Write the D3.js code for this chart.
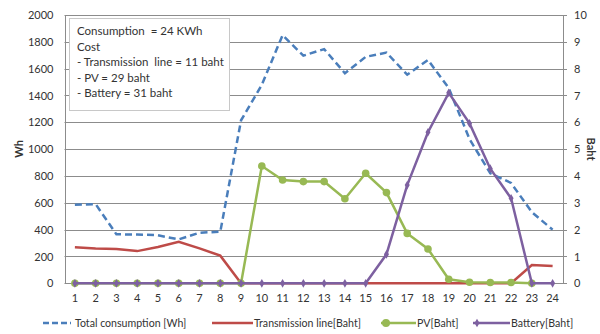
<!DOCTYPE html>
<html><head><meta charset="utf-8">
<script src="https://cdn.jsdelivr.net/npm/d3@7"></script>
<style>
body{margin:0;background:#fff;}
svg text{font-family:Lato,"Open Sans",sans-serif;fill:#333;}
</style></head><body>
<svg id="c" width="600" height="334"></svg>
<script>
const categories = ["1","2","3","4","5","6","7","8","9","10","11","12","13","14","15","16","17","18","19","20","21","22","23","24"];
const totalConsumption = [585,590,365,364,358,327,377,384,1215,1480,1850,1697,1746,1566,1688,1720,1555,1665,1455,1075,820,748,530,400];
const transmission = [1.34,1.30,1.28,1.20,1.35,1.55,1.30,1.03,0,0,0,0,0,0,0,0,0,0,0,0,0,0,0.68,0.645];
const pv = [0,0,0,0,0,0,0,0,0,4.37,3.85,3.79,3.79,3.15,4.10,3.38,1.86,1.28,0.15,0.04,0.03,0.03,0,null];
const battery = [0,0,0,0,0,0,0,0,0,0,0,0,0,0,0,1.08,3.66,5.63,7.10,5.96,4.27,3.17,0,0];
const leftTicks = [0,200,400,600,800,1000,1200,1400,1600,1800,2000];
const rightTicks = [0,1,2,3,4,5,6,7,8,9,10];
const boxLines = ["Consumption  = 24 KWh","Cost","- Transmission  line = 11 baht","- PV = 29 baht","- Battery = 31 baht"];
const legendLabels = ["Total consumption [Wh]","Transmission line[Baht]","PV[Baht]","Battery[Baht]"];

const svg = d3.select("#c");
const L = 64.5, R = 563, T = 15, B = 283.3;
const x = d3.scaleBand().domain(categories).range([L, R]);
const cx = c => x(c) + x.bandwidth()/2;
const yL = d3.scaleLinear().domain([0,2000]).range([B,T]);
const yR = d3.scaleLinear().domain([0,10]).range([B,T]);
const grid = "#8c8c8c";

svg.append("g").selectAll("line").data(leftTicks).join("line")
  .attr("x1",L).attr("x2",R+4).attr("y1",d=>Math.round(yL(d))+0.5).attr("y2",d=>Math.round(yL(d))+0.5)
  .attr("stroke",grid).attr("stroke-width",1);
svg.append("line").attr("x1",Math.round(L)+0.5).attr("x2",Math.round(L)+0.5).attr("y1",T).attr("y2",B).attr("stroke",grid);
svg.append("line").attr("x1",Math.round(R)+0.5).attr("x2",Math.round(R)+0.5).attr("y1",T).attr("y2",B).attr("stroke",grid);

const ax = svg.append("g").attr("transform",`translate(${L},0)`)
  .call(d3.axisLeft(yL).tickValues(leftTicks).tickFormat(d3.format("d")).tickSize(0).tickPadding(11));
ax.select(".domain").remove();
ax.selectAll("text").style("font-size","11px").attr("fill","#333");
const ar = svg.append("g").attr("transform",`translate(${R},0)`)
  .call(d3.axisRight(yR).tickValues(rightTicks).tickFormat(d3.format("d")).tickSize(0).tickPadding(11));
ar.select(".domain").remove();
ar.selectAll("text").style("font-size","11px").attr("fill","#333");
const ab = svg.append("g").attr("transform",`translate(0,${B})`)
  .call(d3.axisBottom(x).tickSize(0).tickPadding(11));
ab.select(".domain").remove();
ab.selectAll("text").style("font-size","11px").attr("fill","#333");

svg.append("text").attr("transform","translate(23,149) rotate(-90)").attr("text-anchor","middle")
  .style("font-size","11px").style("font-weight","bold").attr("fill","#222").text("Wh");
svg.append("text").attr("transform","translate(587,149) rotate(90)").attr("text-anchor","middle")
  .style("font-size","11px").style("font-weight","bold").attr("fill","#222").text("Baht");

const cBlue="#4a7ebb", cRed="#be4b48", cGreen="#98b954", cPurple="#7d60a0";

const lineL = d3.line().defined(d=>d[1]!=null).x(d=>cx(d[0])).y(d=>yL(d[1]));
const lineR = d3.line().defined(d=>d[1]!=null).x(d=>cx(d[0])).y(d=>yR(d[1]));
const z = arr => categories.map((c,i)=>[c,arr[i]]);

svg.append("path").datum(z(totalConsumption)).attr("d",lineL).attr("fill","none")
  .attr("stroke",cBlue).attr("stroke-width",2.5).attr("stroke-dasharray","7,4");
svg.append("path").datum(z(transmission)).attr("d",lineR).attr("fill","none")
  .attr("stroke",cRed).attr("stroke-width",2.5);
svg.append("path").datum(z(pv)).attr("d",lineR).attr("fill","none")
  .attr("stroke",cGreen).attr("stroke-width",2.5);
svg.append("g").selectAll("circle").data(z(pv).filter(d=>d[1]!=null)).join("circle")
  .attr("cx",d=>cx(d[0])).attr("cy",d=>yR(d[1])).attr("r",3.8).attr("fill",cGreen);
svg.append("path").datum(z(battery)).attr("d",lineR).attr("fill","none")
  .attr("stroke",cPurple).attr("stroke-width",2.5);
const diamond = d3.symbol().type(d3.symbolDiamond).size(22);
svg.append("g").selectAll("path").data(z(battery)).join("path")
  .attr("transform",d=>`translate(${cx(d[0])},${yR(d[1])})`).attr("d",diamond).attr("fill",cPurple);

svg.append("rect").attr("x",69.5).attr("y",18.5).attr("width",160).attr("height",92)
  .attr("fill","#fff").attr("stroke","#c8c8c8").attr("stroke-width",1);
svg.append("g").selectAll("text").data(boxLines).join("text")
  .attr("x",77).attr("y",(d,i)=>35+i*15.5).style("font-size","11.5px").style("white-space","pre")
  .attr("xml:space","preserve").attr("fill","#222").text(d=>d);

const ly = 323, lf = "10.6px";
const lg = svg.append("g");
lg.append("line").attr("x1",43).attr("x2",71).attr("y1",ly).attr("y2",ly).attr("stroke",cBlue).attr("stroke-width",2.5).attr("stroke-dasharray","6,3");
lg.append("text").attr("x",75).attr("y",ly+4).style("font-size",lf).text(legendLabels[0]);
lg.append("line").attr("x1",212).attr("x2",253).attr("y1",ly).attr("y2",ly).attr("stroke",cRed).attr("stroke-width",2.5);
lg.append("text").attr("x",254).attr("y",ly+4).style("font-size",lf).text(legendLabels[1]);
lg.append("line").attr("x1",381).attr("x2",416).attr("y1",ly).attr("y2",ly).attr("stroke",cGreen).attr("stroke-width",2.5);
lg.append("circle").attr("cx",386).attr("cy",ly).attr("r",4).attr("fill",cGreen);
lg.append("text").attr("x",417).attr("y",ly+4).style("font-size",lf).text(legendLabels[2]);
lg.append("line").attr("x1",473).attr("x2",510).attr("y1",ly).attr("y2",ly).attr("stroke",cPurple).attr("stroke-width",2.5);
lg.append("path").attr("transform",`translate(477,${ly})`).attr("d",diamond).attr("fill",cPurple);
lg.append("text").attr("x",511).attr("y",ly+4).style("font-size",lf).text(legendLabels[3]);
</script></body></html>
